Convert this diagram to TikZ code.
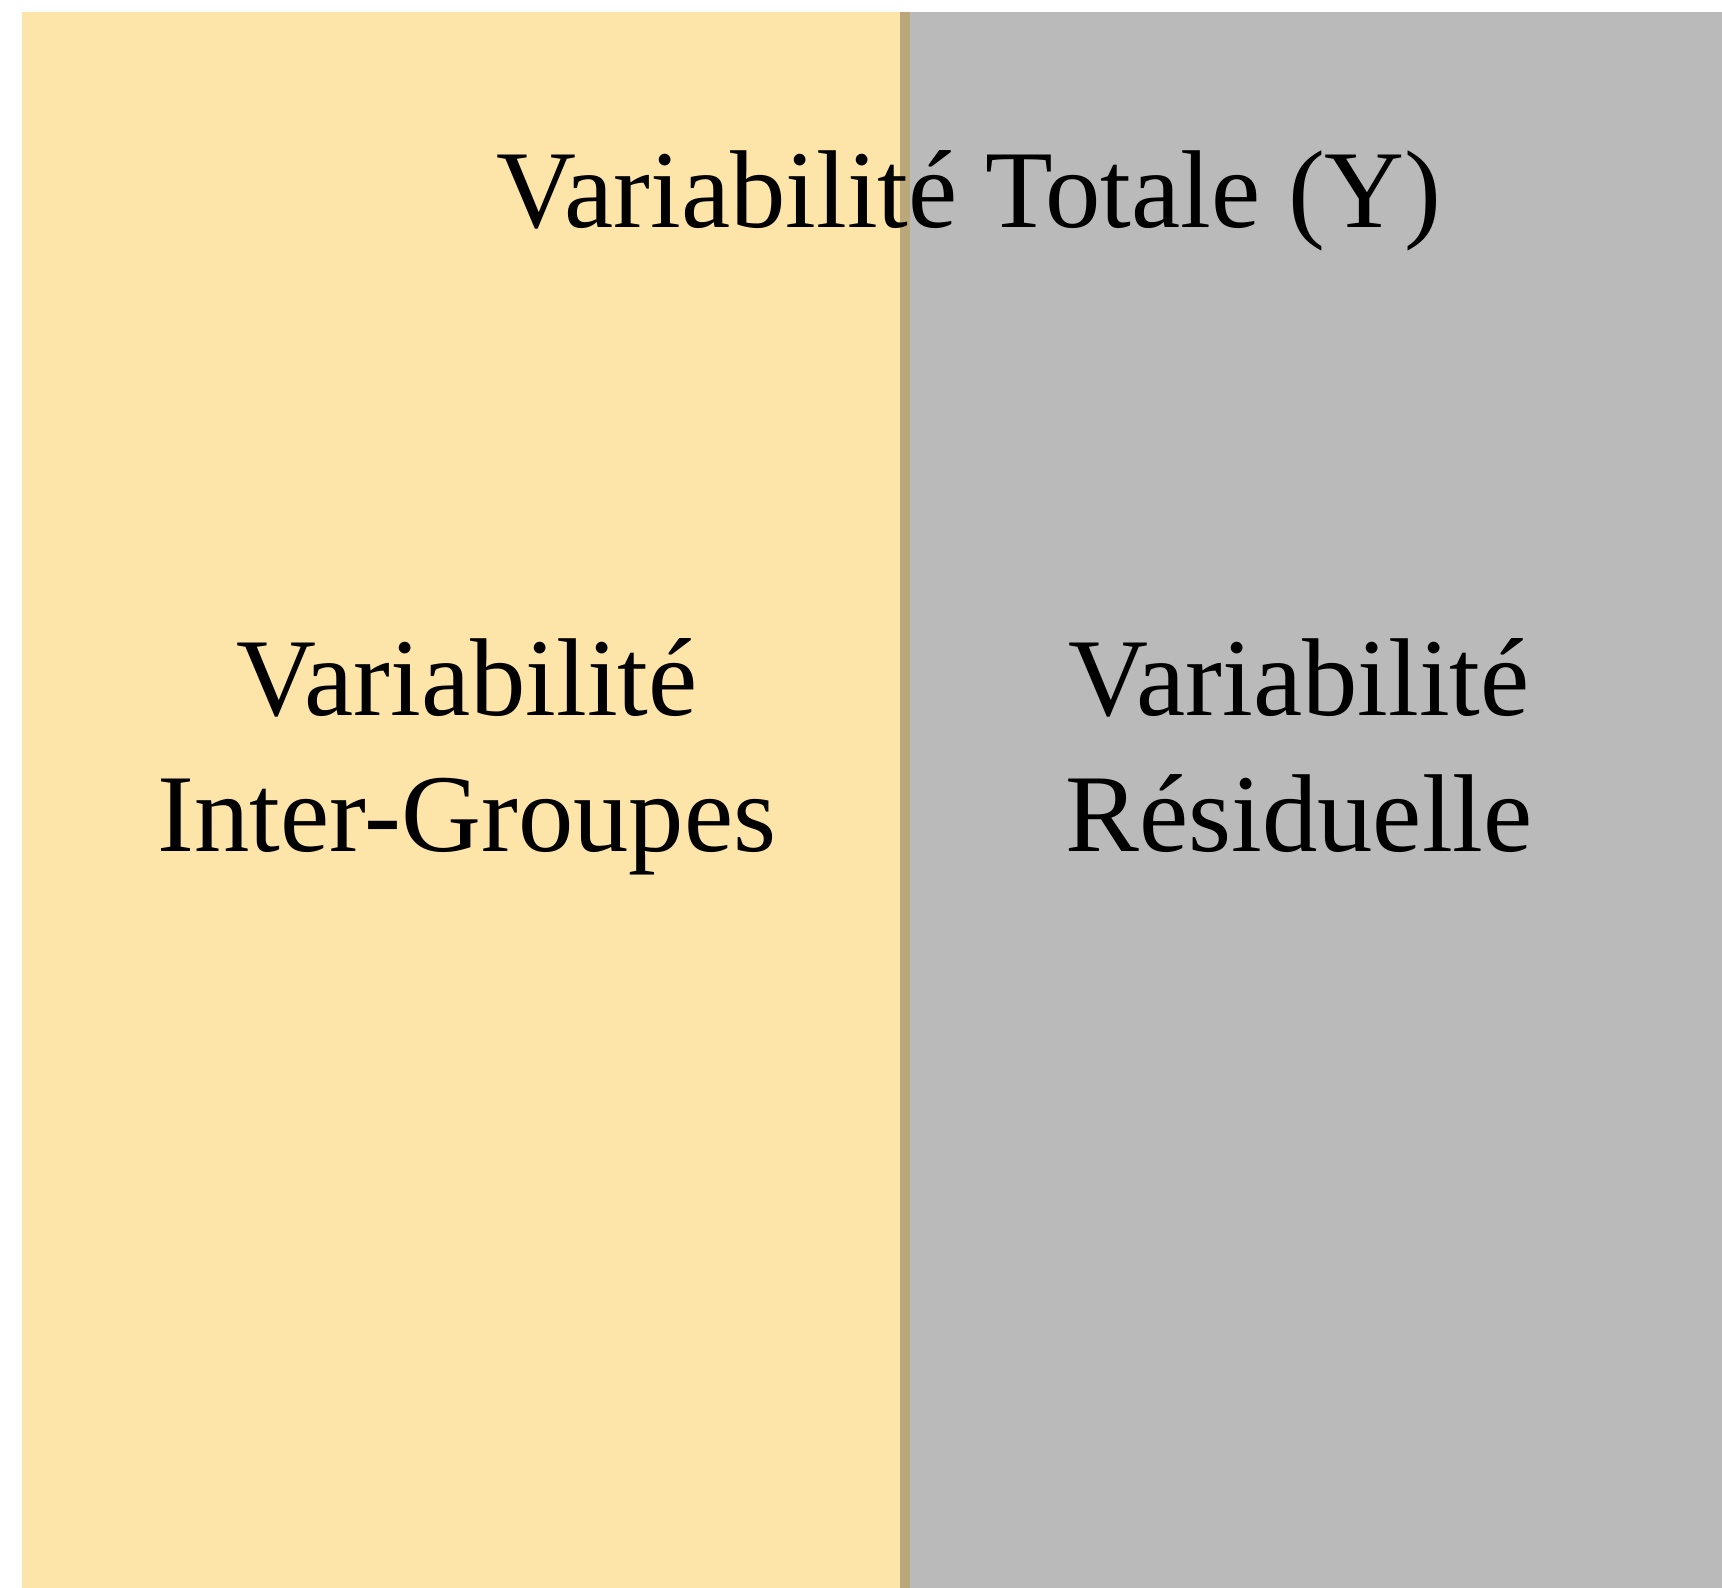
\documentclass[tikz,border=0pt]{standalone}
\usepackage{fontspec}
\setmainfont{Liberation Serif}
\definecolor{sandfill}{HTML}{FDE4A9}
\definecolor{greyfill}{HTML}{BABABA}
\definecolor{seamfill}{HTML}{BAA77A}
\begin{document}
\begin{tikzpicture}[x=0.02cm,y=-0.02cm,
    label/.style={font=\fontsize{63}{77}\selectfont, inner sep=0pt, align=center, anchor=base, text=black}]
  \useasboundingbox (0,0) rectangle (1722,1588);
  % two blocks of the variance split, with the shared seam between them
  \fill[sandfill] (22,12) rectangle (910,1588);
  \fill[greyfill] (900,12) rectangle (1722,1588);
  \fill[seamfill] (900,12) rectangle (910,1588);
  % labels (base anchor sits on the last line of a two-line label)
  \node[label] (total) at (969,228) {Variabilité Totale (Y)};
  \node[label] (inter) at (467,851) {Variabilité\\Inter-Groupes};
  \node[label] (resid) at (1299,851) {Variabilité\\Résiduelle};
\end{tikzpicture}
\end{document}
